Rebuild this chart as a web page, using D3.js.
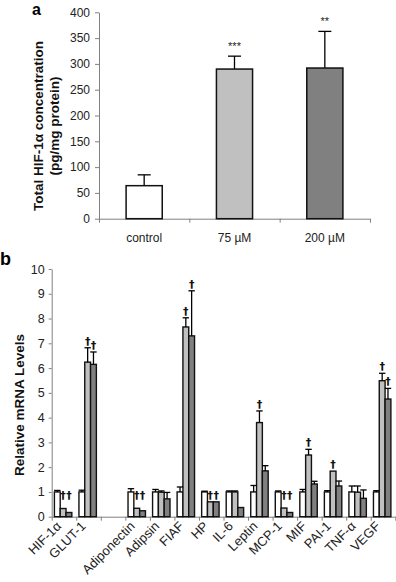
<!DOCTYPE html>
<html>
<head>
<meta charset="utf-8">
<script src="https://cdn.jsdelivr.net/npm/d3@7"></script>
<style>
  body { margin: 0; background: #fff; }
  svg { font-family: "Liberation Sans", Arial, sans-serif; }
</style>
</head>
<body>
<svg id="chart" width="396" height="582"></svg>
<script>
// ---- panel a data
const doses = ["control", "75 µM", "200 µM"];
const hifConc = [64, 290, 292];
const hifSd = [21, 25, 71];
const hifStars = ["", "***", "**"];

// ---- panel b data
const genes = ["HIF-1α", "GLUT-1", "", "Adiponectin", "Adipsin", "FIAF", "HP", "IL-6",
               "Leptin", "MCP-1", "MIF", "PAI-1", "TNF-α", "VEGF"];
const ctrlLevel = [1, 1, 0, 1, 1, 1, 1, 1, 1, 1, 1, 1, 1, 1];
const ctrlSd = [0.06, 0.07, 0, 0.13, 0.1, 0.2, 0.03, 0.04, 0.26, 0.04, 0.1, 0.05, 0.24, 0.05];
const lowLevel = [0.33, 6.24, 0, 0.34, 0.99, 7.66, 0.6, 1.0, 3.8, 0.35, 2.49, 1.84, 0.99, 5.49];
const lowSd = [0, 0.58, 0, 0, 0.05, 0.37, 0, 0.04, 0.47, 0, 0.23, 0, 0.25, 0.3];
const highLevel = [0.17, 6.15, 0, 0.24, 0.72, 7.3, 0.6, 0.37, 1.85, 0.17, 1.32, 1.24, 0.74, 4.75];
const highSd = [0, 0.5, 0, 0, 0.26, 1.82, 0, 0, 0.21, 0, 0.11, 0.2, 0.34, 0.43];
const lowSig = [true, true, false, true, false, true, true, false, true, true, true, true, false, true];
const highSig = [true, true, false, true, false, true, true, false, false, true, false, false, false, true];

const fills = ["#ffffff", "#c0c0c0", "#808080"];
const axisColor = "#808080";

const svg = d3.select("#chart");

// ================= panel a =================
const ya = d3.scaleLinear().domain([0, 400]).range([218.7, 12.3]);
const xa = d3.scaleBand().domain(doses).range([99, 370]);

const ga = svg.append("g");

ga.append("g")
  .attr("transform", "translate(99,0)")
  .call(d3.axisLeft(ya).tickValues(d3.range(0, 401, 50)).tickSize(4).tickPadding(5).tickSizeOuter(0))
  .call(g => g.selectAll("text").attr("fill", "#222").style("font-size", "12px").style("font-family", "inherit"))
  .call(g => g.selectAll("line,path").attr("stroke", axisColor));

ga.append("g")
  .attr("transform", "translate(0,218.7)")
  .call(d3.axisBottom(d3.scaleLinear().domain([0, doses.length]).range(xa.range()))
    .ticks(doses.length).tickFormat("").tickSize(4).tickSizeOuter(0))
  .call(g => g.selectAll("line,path").attr("stroke", axisColor));

ga.selectAll(".dose")
  .data(doses)
  .join("text")
  .attr("x", d => xa(d) + xa.bandwidth() / 2)
  .attr("y", 242)
  .attr("text-anchor", "middle")
  .attr("fill", "#222")
  .style("font-size", "12px")
  .text(d => d);

const barWa = xa.bandwidth() * 0.4;
// error bars (upward only)
doses.forEach((d, i) => {
  const cx = xa(d) + xa.bandwidth() / 2;
  const top = ya(hifConc[i] + hifSd[i]);
  ga.append("line").attr("x1", cx).attr("x2", cx).attr("y1", ya(hifConc[i])).attr("y2", top)
    .attr("stroke", "#000").attr("stroke-width", 1.3);
  ga.append("line").attr("x1", cx - 6.5).attr("x2", cx + 6.5).attr("y1", top).attr("y2", top)
    .attr("stroke", "#000").attr("stroke-width", 1.3);
  if (hifStars[i]) {
    ga.append("text").attr("x", cx).attr("y", top - 6).attr("text-anchor", "middle")
      .style("font-size", "11px").attr("fill", "#222").text(hifStars[i]);
  }
});

ga.selectAll(".bar")
  .data(doses)
  .join("rect")
  .attr("x", d => xa(d) + (xa.bandwidth() - barWa) / 2)
  .attr("y", (d, i) => ya(hifConc[i]))
  .attr("width", barWa)
  .attr("height", (d, i) => ya(0) - ya(hifConc[i]))
  .attr("fill", (d, i) => fills[i])
  .attr("stroke", "#111")
  .attr("stroke-width", 1.5);

ga.append("text")
  .attr("transform", "translate(43,126) rotate(-90)")
  .attr("text-anchor", "middle")
  .style("font-size", "13.5px").style("font-weight", "bold")
  .attr("fill", "#111")
  .text("Total HIF-1α concentration");
ga.append("text")
  .attr("transform", "translate(59,126) rotate(-90)")
  .attr("text-anchor", "middle")
  .style("font-size", "13.5px").style("font-weight", "bold")
  .attr("fill", "#111")
  .text("(pg/mg protein)");

svg.append("text").attr("x", 32).attr("y", 15)
  .style("font-size", "16px").style("font-weight", "bold").text("a");

// ================= panel b =================
const yb = d3.scaleLinear().domain([0, 10]).range([516.7, 269]);
const xb = d3.scaleBand().domain(d3.range(genes.length)).range([51.7, 395.3]);
const series = ["ctrl", "low", "high"];
const xs = d3.scaleBand().domain(series).range([xb.bandwidth() * 0.11, xb.bandwidth() * 0.82]);

const gb = svg.append("g");

gb.append("g")
  .attr("transform", "translate(51.7,0)")
  .call(d3.axisLeft(yb).ticks(10).tickSize(3).tickPadding(4).tickSizeOuter(0))
  .call(g => g.selectAll("text").attr("fill", "#222").style("font-size", "12.5px").style("font-family", "inherit"))
  .call(g => g.selectAll("line,path").attr("stroke", axisColor));

gb.append("g")
  .attr("transform", "translate(0,516.7)")
  .call(d3.axisBottom(d3.scaleLinear().domain([0, genes.length]).range(xb.range()))
    .ticks(genes.length).tickFormat("").tickSize(4).tickSizeOuter(0))
  .call(g => g.selectAll("line,path").attr("stroke", axisColor));

const rows = [];
genes.forEach((g, i) => {
  rows.push({ i, s: "ctrl", v: ctrlLevel[i], sd: ctrlSd[i], sig: false, fill: fills[0] });
  rows.push({ i, s: "low", v: lowLevel[i], sd: lowSd[i], sig: lowSig[i], fill: fills[1] });
  rows.push({ i, s: "high", v: highLevel[i], sd: highSd[i], sig: highSig[i], fill: fills[2] });
});

gb.selectAll(".rb")
  .data(rows)
  .join("rect")
  .attr("x", d => xb(d.i) + xs(d.s))
  .attr("y", d => yb(d.v))
  .attr("width", xs.bandwidth())
  .attr("height", d => yb(0) - yb(d.v))
  .attr("fill", d => d.fill)
  .attr("stroke", "#111")
  .attr("stroke-width", 1.4);

rows.filter(d => d.sd > 0).forEach(d => {
  const cx = xb(d.i) + xs(d.s) + xs.bandwidth() / 2;
  const top = yb(d.v + d.sd);
  gb.append("line").attr("x1", cx).attr("x2", cx).attr("y1", yb(d.v)).attr("y2", top)
    .attr("stroke", "#000").attr("stroke-width", 1.3);
  gb.append("line").attr("x1", cx - 3.2).attr("x2", cx + 3.2).attr("y1", top).attr("y2", top)
    .attr("stroke", "#000").attr("stroke-width", 1.3);
});

rows.filter(d => d.sig).forEach(d => {
  const cx = xb(d.i) + xs(d.s) + xs.bandwidth() / 2;
  const top = Math.max(d.v + d.sd, 0.6);
  gb.append("text").attr("x", cx).attr("y", yb(top) - 3)
    .attr("text-anchor", "middle")
    .style("font-family", "'DejaVu Sans', sans-serif")
    .style("font-size", "11px").style("font-weight", "bold").attr("fill", "#111")
    .text("†");
});

gb.selectAll(".gl")
  .data(genes)
  .join("text")
  .attr("transform", (d, i) => `translate(${xb(i) + xb.bandwidth() / 2 - 2},527) rotate(-45)`)
  .attr("text-anchor", "end")
  .attr("fill", "#222")
  .style("font-size", "13px")
  .text(d => d);

gb.append("text")
  .attr("transform", "translate(24,405) rotate(-90)")
  .attr("text-anchor", "middle")
  .style("font-size", "13.5px").style("font-weight", "bold")
  .attr("fill", "#111")
  .text("Relative mRNA Levels");

svg.append("text").attr("x", 0).attr("y", 265)
  .style("font-size", "18px").style("font-weight", "bold").text("b");
</script>
</body>
</html>
